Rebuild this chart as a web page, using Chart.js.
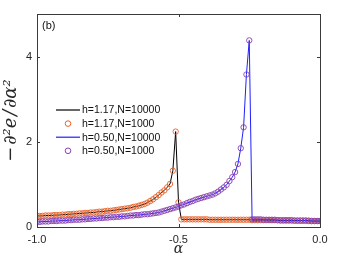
<!DOCTYPE html>
<html lang="en">
<head>
  <meta charset="UTF-8">
  <title>Second derivative of e</title>
  <script src="https://cdn.jsdelivr.net/npm/chart.js"></script>
  <style>
    body {
      margin: 0;
      padding: 0;
      background: #fff;
    }
    canvas {
      display: block;
    }
  </style>
</head>
<body>
  <canvas id="curveChart" width="353" height="258"></canvas>

  <script>
    // alpha grid (step 0.01)
    const alpha = [
      -1.00, -0.99, -0.98, -0.97, -0.96, -0.95, -0.94, -0.93, -0.92, -0.91,
      -0.90, -0.89, -0.88, -0.87, -0.86, -0.85, -0.84, -0.83, -0.82, -0.81,
      -0.80, -0.79, -0.78, -0.77, -0.76, -0.75, -0.74, -0.73, -0.72, -0.71,
      -0.70, -0.69, -0.68, -0.67, -0.66, -0.65, -0.64, -0.63, -0.62, -0.61,
      -0.60, -0.59, -0.58, -0.57, -0.56, -0.55, -0.54, -0.53, -0.52, -0.51,
      -0.50, -0.49, -0.48, -0.47, -0.46, -0.45, -0.44, -0.43, -0.42, -0.41,
      -0.40, -0.39, -0.38, -0.37, -0.36, -0.35, -0.34, -0.33, -0.32, -0.31,
      -0.30, -0.29, -0.28, -0.27, -0.26, -0.25, -0.24, -0.23, -0.22, -0.21,
      -0.20, -0.19, -0.18, -0.17, -0.16, -0.15, -0.14, -0.13, -0.12, -0.11,
      -0.10, -0.09, -0.08, -0.07, -0.06, -0.05, -0.04, -0.03, -0.02, -0.01,
      0.00
    ];

    // h = 1.17
    const h117 = [
      0.26, 0.26, 0.26, 0.27, 0.27, 0.27, 0.28, 0.28, 0.28, 0.29,
      0.29, 0.30, 0.30, 0.31, 0.31, 0.32, 0.32, 0.33, 0.33, 0.34,
      0.34, 0.35, 0.36, 0.36, 0.37, 0.38, 0.38, 0.39, 0.40, 0.41,
      0.42, 0.43, 0.44, 0.45, 0.47, 0.48, 0.50, 0.52, 0.54, 0.57,
      0.61, 0.65, 0.70, 0.75, 0.81, 0.86, 0.93, 1.01, 1.32, 2.24,
      0.58, 0.18, 0.18, 0.18, 0.18, 0.18, 0.18, 0.18, 0.18, 0.18,
      0.18, 0.17, 0.17, 0.17, 0.17, 0.17, 0.17, 0.17, 0.17, 0.17,
      0.17, 0.17, 0.17, 0.17, 0.17, 0.17, 0.16, 0.16, 0.16, 0.16,
      0.16, 0.16, 0.16, 0.16, 0.16, 0.16, 0.15, 0.15, 0.15, 0.15,
      0.15, 0.15, 0.15, 0.15, 0.15, 0.15, 0.14, 0.14, 0.14, 0.14,
      0.14
    ];

    // h = 0.50
    const h050 = [
      0.12, 0.12, 0.13, 0.13, 0.13, 0.14, 0.14, 0.14, 0.15, 0.15,
      0.15, 0.16, 0.16, 0.17, 0.17, 0.17, 0.18, 0.18, 0.19, 0.19,
      0.20, 0.20, 0.21, 0.21, 0.22, 0.22, 0.23, 0.23, 0.24, 0.24,
      0.25, 0.25, 0.26, 0.27, 0.27, 0.28, 0.28, 0.29, 0.30, 0.30,
      0.31, 0.32, 0.33, 0.34, 0.36, 0.38, 0.40, 0.42, 0.44, 0.46,
      0.48, 0.51, 0.53, 0.56, 0.59, 0.61, 0.64, 0.66, 0.68, 0.70,
      0.72, 0.74, 0.76, 0.79, 0.83, 0.88, 0.93, 0.99, 1.08, 1.17,
      1.29, 1.48, 1.85, 2.34, 3.58, 4.38, 0.18, 0.18, 0.18, 0.18,
      0.17, 0.17, 0.17, 0.17, 0.17, 0.16, 0.16, 0.16, 0.16, 0.16,
      0.16, 0.15, 0.15, 0.15, 0.15, 0.15, 0.15, 0.14, 0.14, 0.14,
      0.14
    ];

    const seriesLabels = ["h=1.17,N=10000", "h=1.17,N=1000", "h=0.50,N=10000", "h=0.50,N=1000"];
    const xTicks = [-1.0, -0.5, 0.0];
    const yTicks = [0, 2, 4];

    const toPoints = (ys) => alpha.map((a, i) => ({ x: a, y: ys[i] }));

    const AXIS_COLOR = "#3a3a3a";
    const TICK_FONT = { family: "'Liberation Sans', Arial, sans-serif", size: 11 };

    // box + inward ticks like the original figure
    const boxPlugin = {
      id: "boxPlugin",
      afterDraw(chart) {
        const { ctx, chartArea: a, scales } = chart;
        ctx.save();
        ctx.strokeStyle = AXIS_COLOR;
        ctx.lineWidth = 1;
        ctx.strokeRect(a.left + 0.5, a.top + 0.5, a.right - a.left, a.bottom - a.top);
        const len = 3;
        ctx.beginPath();
        xTicks.forEach((v) => {
          const px = Math.round(scales.x.getPixelForValue(v)) + 0.5;
          ctx.moveTo(px, a.bottom);
          ctx.lineTo(px, a.bottom - len);
          ctx.moveTo(px, a.top);
          ctx.lineTo(px, a.top + len);
        });
        yTicks.forEach((v) => {
          const py = Math.round(scales.y.getPixelForValue(v)) + 0.5;
          ctx.moveTo(a.left, py);
          ctx.lineTo(a.left + len, py);
          ctx.moveTo(a.right, py);
          ctx.lineTo(a.right - len, py);
        });
        ctx.stroke();

        // panel label
        ctx.fillStyle = "#111";
        ctx.font = "11px 'Liberation Sans', Arial, sans-serif";
        ctx.textBaseline = "middle";
        ctx.textAlign = "left";
        ctx.fillText("(b)", a.left + 5, a.top + 12);
        ctx.restore();
      }
    };

    // legend drawn inside the plot area
    const innerLegend = {
      id: "innerLegend",
      afterDraw(chart) {
        const { ctx } = chart;
        const x0 = 56, top = 110, gap = 13.6;
        ctx.save();
        ctx.font = "10.5px 'Liberation Sans', Arial, sans-serif";
        ctx.textBaseline = "middle";
        ctx.textAlign = "left";
        chart.data.datasets.forEach((ds, i) => {
          const y = top + i * gap;
          if (ds.showLine) {
            ctx.strokeStyle = ds.borderColor;
            ctx.lineWidth = 1.2;
            ctx.beginPath();
            ctx.moveTo(x0, y);
            ctx.lineTo(x0 + 24, y);
            ctx.stroke();
          } else {
            ctx.strokeStyle = ds.borderColor;
            ctx.lineWidth = 1;
            ctx.beginPath();
            ctx.arc(x0 + 12, y, 2.8, 0, Math.PI * 2);
            ctx.stroke();
          }
          ctx.fillStyle = "#111";
          ctx.fillText(seriesLabels[i], x0 + 26, y + 0.5);
        });
        ctx.restore();
      }
    };

    const ctx = document.getElementById("curveChart").getContext("2d");
    new Chart(ctx, {
      type: "scatter",
      data: {
        datasets: [
          {
            label: seriesLabels[0],
            data: toPoints(h117),
            showLine: true,
            borderColor: "#000000",
            borderWidth: 1,
            pointRadius: 0,
            order: 4
          },
          {
            label: seriesLabels[1],
            data: toPoints(h117),
            showLine: false,
            borderColor: "#E8622A",
            backgroundColor: "transparent",
            pointRadius: 2.7,
            pointBorderWidth: 0.9,
            order: 3
          },
          {
            label: seriesLabels[2],
            data: toPoints(h050),
            showLine: true,
            borderColor: "#1f1fff",
            borderWidth: 1,
            pointRadius: 0,
            order: 2
          },
          {
            label: seriesLabels[3],
            data: toPoints(h050),
            showLine: false,
            borderColor: "#8a3fb0",
            backgroundColor: "transparent",
            pointRadius: 2.7,
            pointBorderWidth: 0.9,
            order: 1
          }
        ]
      },
      options: {
        responsive: false,
        animation: false,
        layout: { padding: { top: 14, right: 33, left: 0, bottom: 0 } },
        plugins: {
          legend: { display: false },
          tooltip: { enabled: false }
        },
        scales: {
          x: {
            type: "linear",
            min: -1,
            max: 0,
            afterFit: (s) => { s.height = 31; },
            afterBuildTicks: (s) => { s.ticks = xTicks.map((v) => ({ value: v })); },
            grid: { display: false, drawTicks: false },
            border: { display: false },
            ticks: {
              color: "#262626",
              font: TICK_FONT,
              padding: 6,
              maxRotation: 0,
              callback: (v) => Number(v).toFixed(1)
            },
            title: {
              display: true,
              text: "α",
              color: "#262626",
              font: { family: "'DejaVu Serif', 'Liberation Serif', serif", size: 14, style: "italic" },
              padding: { top: 0, bottom: 0 }
            }
          },
          y: {
            type: "linear",
            min: 0,
            max: 5,
            afterFit: (s) => { s.width = 37; },
            afterBuildTicks: (s) => { s.ticks = yTicks.map((v) => ({ value: v })); },
            grid: { display: false, drawTicks: false },
            border: { display: false },
            ticks: {
              color: "#262626",
              font: TICK_FONT,
              padding: 5,
              callback: (v) => String(v)
            },
            title: {
              display: true,
              text: "−\u200a∂²e\u200a/\u200a∂α²",
              color: "#262626",
              font: { family: "'DejaVu Serif', 'Liberation Serif', serif", size: 18, style: "italic" },
              padding: { top: 1, bottom: 0 }
            }
          }
        }
      },
      plugins: [boxPlugin, innerLegend]
    });
  </script>
</body>
</html>
